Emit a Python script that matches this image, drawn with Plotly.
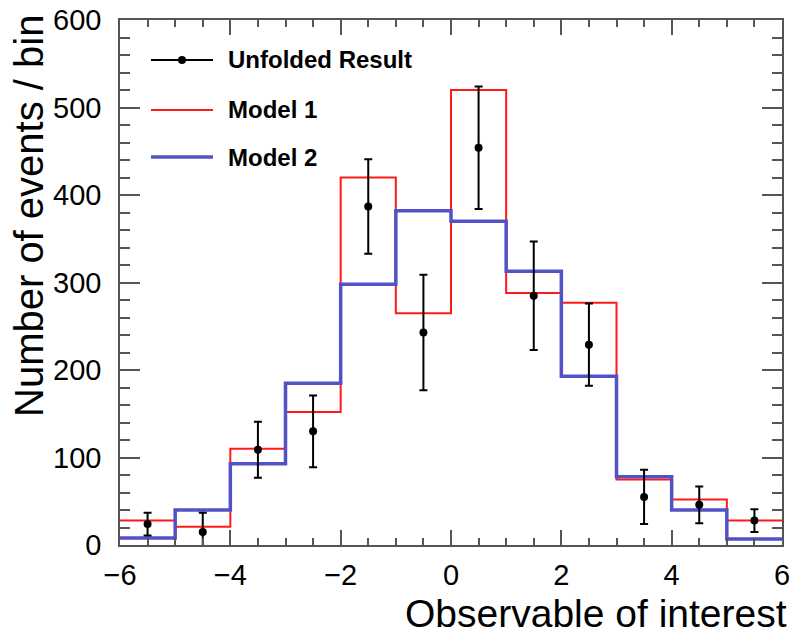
import plotly.graph_objects as go

# ---- data ----
bin_edges = [-6, -5, -4, -3, -2, -1, 0, 1, 2, 3, 4, 5, 6]
bin_centers = [-5.5, -4.5, -3.5, -2.5, -1.5, -0.5, 0.5, 1.5, 2.5, 3.5, 4.5, 5.5]
model1 = [28, 21, 110, 152, 420, 265, 520, 288, 277, 75, 52, 28]
model2 = [8, 40, 93, 185, 298, 382, 370, 313, 193, 78, 40, 7]
unfolded = [24, 15, 109, 130, 387, 243, 454, 285, 229, 55, 46, 28]
unfolded_err = [13, 22, 32, 41, 54, 66, 70, 62, 47, 31, 21, 13]

legend_labels = ["Unfolded Result", "Model 1", "Model 2"]
x_title = "Observable of interest"
y_title = "Number of events / bin"

RED = "#ff1a1a"
BLUE = "#5252c6"
FRAME = "#555555"
FONT = "Liberation Sans, Arial, Helvetica, sans-serif"

fig = go.Figure()

fig.add_trace(go.Scatter(
    x=bin_edges, y=model1 + [model1[-1]], mode="lines", line_shape="hv",
    line=dict(color=RED, width=2), showlegend=False, hoverinfo="skip"))
fig.add_trace(go.Scatter(
    x=bin_edges, y=model2 + [model2[-1]], mode="lines", line_shape="hv",
    line=dict(color=BLUE, width=3.5), showlegend=False, hoverinfo="skip"))
fig.add_trace(go.Scatter(
    x=bin_centers, y=unfolded, mode="markers",
    marker=dict(color="black", size=8),
    error_y=dict(type="data", array=unfolded_err, visible=True,
                 color="black", thickness=2, width=4),
    showlegend=False))

# plot area in pixels
L, R, T, B = 120, 782, 20, 545
W, H = R - L, B - T

def px(x):
    return (x - L) / W

def py(y):
    return (B - y) / H

shapes = []
annotations = []
rows = [60, 110, 157]
colors = ["black", RED, BLUE]
widths = [2, 2, 3.5]
for i, (lab, c, w) in enumerate(zip(legend_labels, colors, widths)):
    yy = py(rows[i])
    shapes.append(dict(type="line", xref="paper", yref="paper",
                       x0=px(151), x1=px(213), y0=yy, y1=yy,
                       line=dict(color=c, width=w)))
    annotations.append(dict(text="<b>%s</b>" % lab, xref="paper", yref="paper",
                            x=px(226), y=yy, xanchor="left", yanchor="middle",
                            showarrow=False, font=dict(size=24, color="black", family=FONT)))
shapes.append(dict(type="circle", xref="paper", yref="paper",
                   xsizemode="pixel", ysizemode="pixel",
                   xanchor=px(182), yanchor=py(rows[0]),
                   x0=-4, x1=4, y0=-4, y1=4,
                   fillcolor="black", line=dict(color="black", width=0)))

annotations.append(dict(text=x_title, xref="paper", yref="paper",
                        x=px(789), y=py(613), xanchor="right", yanchor="middle",
                        showarrow=False, font=dict(size=39, color="black", family=FONT)))
annotations.append(dict(text=y_title, xref="paper", yref="paper", textangle=-90,
                        x=px(29), y=py(13), xanchor="center", yanchor="top",
                        showarrow=False, font=dict(size=40, color="black", family=FONT)))

axis_common = dict(showgrid=False, zeroline=False, showline=True, linecolor=FRAME,
                   linewidth=1.5, mirror="allticks", ticks="inside", tickcolor=FRAME,
                   tickwidth=1.5, automargin=False,
                   tickfont=dict(size=29, color="black", family=FONT))

fig.update_layout(
    width=793, height=635,
    margin=dict(l=L, r=793 - R, t=T, b=635 - B),
    paper_bgcolor="white", plot_bgcolor="white",
    xaxis=dict(range=[-6, 6], dtick=2, tick0=-6, ticklen=15,
               minor=dict(dtick=0.5, ticklen=7, ticks="inside", tickcolor=FRAME, tickwidth=1.5),
               ticklabelstandoff=3, **axis_common),
    yaxis=dict(range=[0, 600], dtick=100, ticklen=20,
               minor=dict(dtick=20, ticklen=10, ticks="inside", tickcolor=FRAME, tickwidth=1.5),
               ticklabelstandoff=11, **axis_common),
    shapes=shapes, annotations=annotations, showlegend=False,
)

fig.write_html("out.html")
